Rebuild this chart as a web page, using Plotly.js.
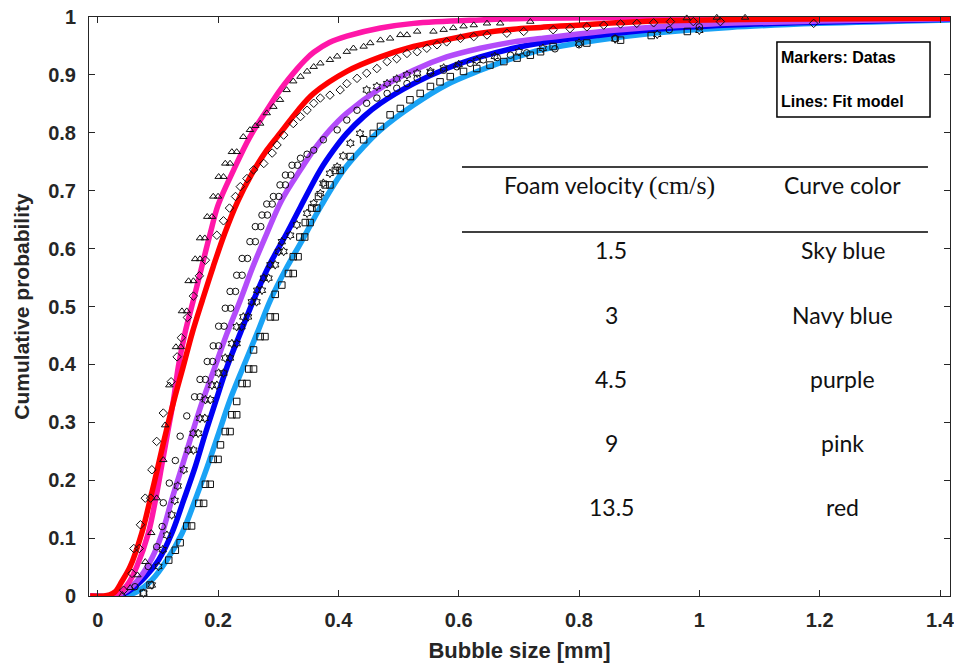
<!DOCTYPE html>
<html>
<head>
<meta charset="utf-8">
<script src="https://cdn.plot.ly/plotly-3.0.1.min.js"></script>
<style>html,body{margin:0;padding:0;background:#fff;}#chart{width:954px;height:667px;}</style>
</head>
<body>
<div id="chart"></div>
<script>
// ---------- Fit model curves (lines) ----------
const skyFitX = [-0.0125, 0.043, 0.065, 0.090, 0.115, 0.140, 0.162, 0.182, 0.201, 0.220, 0.242, 0.265, 0.287, 0.315, 0.337, 0.372, 0.409, 0.442, 0.470, 0.525, 0.580, 0.636, 0.691, 0.736, 0.83, 0.923, 1.05, 1.2, 1.417];
const skyFitY = [0, 0, 0.0074, 0.0276, 0.062, 0.108, 0.166, 0.223, 0.281, 0.339, 0.396, 0.454, 0.511, 0.569, 0.609, 0.675, 0.736, 0.776, 0.805, 0.848, 0.883, 0.908, 0.929, 0.943, 0.960, 0.972, 0.982, 0.989, 0.995];

const navyFitX = [-0.0125, 0.032, 0.054, 0.079, 0.101, 0.123, 0.143, 0.162, 0.179, 0.197, 0.215, 0.237, 0.259, 0.284, 0.314, 0.337, 0.370, 0.392, 0.414, 0.442, 0.470, 0.525, 0.580, 0.636, 0.691, 0.736, 0.83, 0.92, 1.05, 1.2, 1.417];
const navyFitY = [0, 0, 0.010, 0.033, 0.062, 0.108, 0.166, 0.223, 0.281, 0.339, 0.396, 0.454, 0.511, 0.569, 0.626, 0.672, 0.736, 0.770, 0.799, 0.828, 0.851, 0.885, 0.911, 0.931, 0.946, 0.955, 0.968, 0.978, 0.986, 0.991, 0.996];

const purpleFitX = [-0.0125, 0.026, 0.049, 0.071, 0.090, 0.107, 0.123, 0.140, 0.157, 0.175, 0.195, 0.215, 0.237, 0.258, 0.281, 0.306, 0.337, 0.359, 0.386, 0.414, 0.470, 0.525, 0.580, 0.636, 0.691, 0.736, 0.869, 1.0, 1.2, 1.417];
const purpleFitY = [0, 0, 0.010, 0.033, 0.065, 0.108, 0.166, 0.223, 0.281, 0.339, 0.396, 0.454, 0.511, 0.569, 0.626, 0.684, 0.736, 0.770, 0.805, 0.834, 0.877, 0.908, 0.931, 0.946, 0.957, 0.963, 0.978, 0.987, 0.993, 0.997];

const pinkFitX = [-0.0125, 0.032, 0.051, 0.065, 0.084, 0.096, 0.106, 0.116, 0.126, 0.134, 0.145, 0.159, 0.173, 0.187, 0.200, 0.226, 0.253, 0.281, 0.304, 0.331, 0.345, 0.359, 0.385, 0.414, 0.470, 0.525, 0.636, 0.736, 0.9, 1.1, 1.417];
const pinkFitY = [0, 0.002, 0.022, 0.051, 0.108, 0.166, 0.223, 0.281, 0.339, 0.396, 0.454, 0.511, 0.569, 0.626, 0.675, 0.736, 0.793, 0.839, 0.875, 0.910, 0.926, 0.939, 0.956, 0.967, 0.981, 0.989, 0.995, 0.998, 0.999, 1.0, 1.0];

const redFitX = [-0.0125, 0.010, 0.020, 0.029, 0.040, 0.054, 0.073, 0.087, 0.100, 0.113, 0.127, 0.142, 0.157, 0.174, 0.192, 0.211, 0.232, 0.255, 0.281, 0.306, 0.333, 0.359, 0.414, 0.470, 0.525, 0.580, 0.636, 0.691, 0.736, 0.9, 1.1, 1.417];
const redFitY = [0, 0, 0.002, 0.0074, 0.025, 0.051, 0.108, 0.166, 0.223, 0.281, 0.339, 0.396, 0.454, 0.511, 0.569, 0.626, 0.680, 0.727, 0.770, 0.803, 0.839, 0.868, 0.906, 0.931, 0.949, 0.961, 0.972, 0.979, 0.982, 0.992, 0.996, 0.998];

// ---------- Measured data (markers) ----------
// 1.5 cm/s - squares
const sqX = [0.076, 0.087, 0.118, 0.129, 0.137, 0.148, 0.156, 0.168, 0.176, 0.179, 0.187, 0.192, 0.200, 0.204, 0.212, 0.220, 0.223, 0.231, 0.231, 0.240, 0.248, 0.251, 0.259, 0.259, 0.270, 0.278, 0.287, 0.295, 0.295, 0.306, 0.317, 0.325, 0.325, 0.333, 0.336, 0.344, 0.345, 0.353, 0.356, 0.364, 0.367, 0.378, 0.386, 0.395, 0.403, 0.420, 0.442, 0.458, 0.470, 0.486, 0.503, 0.519, 0.536, 0.553, 0.569, 0.586, 0.608, 0.630, 0.652, 0.675, 0.697, 0.719, 0.736, 0.757, 0.813, 0.869, 0.920, 0.980];
const sqY = [0.005, 0.019, 0.062, 0.079, 0.092, 0.121, 0.121, 0.160, 0.160, 0.193, 0.193, 0.236, 0.236, 0.261, 0.284, 0.284, 0.313, 0.313, 0.336, 0.367, 0.367, 0.392, 0.392, 0.425, 0.448, 0.448, 0.482, 0.482, 0.521, 0.537, 0.557, 0.557, 0.586, 0.586, 0.620, 0.620, 0.645, 0.645, 0.670, 0.670, 0.690, 0.710, 0.710, 0.735, 0.735, 0.759, 0.788, 0.799, 0.811, 0.831, 0.842, 0.857, 0.868, 0.880, 0.888, 0.897, 0.906, 0.911, 0.917, 0.923, 0.929, 0.934, 0.940, 0.949, 0.955, 0.960, 0.968, 0.975];

// 3 cm/s - hexagrams
const hexX = [0.076, 0.090, 0.101, 0.108, 0.115, 0.123, 0.128, 0.133, 0.143, 0.151, 0.159, 0.159, 0.167, 0.170, 0.178, 0.179, 0.187, 0.190, 0.198, 0.201, 0.209, 0.212, 0.220, 0.223, 0.231, 0.231, 0.239, 0.242, 0.250, 0.256, 0.264, 0.265, 0.273, 0.276, 0.284, 0.287, 0.295, 0.301, 0.309, 0.306, 0.320, 0.331, 0.348, 0.359, 0.370, 0.375, 0.386, 0.398, 0.408, 0.420, 0.436, 0.447, 0.464, 0.481, 0.497, 0.514, 0.531, 0.553, 0.575, 0.600, 0.630, 0.660, 0.700, 0.740, 0.800, 0.860, 0.930, 1.000];
const hexY = [0.005, 0.019, 0.051, 0.080, 0.105, 0.140, 0.165, 0.190, 0.218, 0.252, 0.252, 0.281, 0.281, 0.307, 0.307, 0.339, 0.339, 0.364, 0.364, 0.385, 0.385, 0.411, 0.411, 0.436, 0.436, 0.465, 0.465, 0.482, 0.482, 0.508, 0.508, 0.528, 0.528, 0.549, 0.549, 0.572, 0.572, 0.595, 0.595, 0.612, 0.623, 0.641, 0.661, 0.678, 0.695, 0.713, 0.730, 0.741, 0.760, 0.782, 0.799, 0.874, 0.880, 0.885, 0.893, 0.900, 0.903, 0.906, 0.912, 0.918, 0.925, 0.932, 0.940, 0.946, 0.955, 0.962, 0.970, 0.977];

// 4.5 cm/s - circles
const cirX = [0.062, 0.084, 0.098, 0.107, 0.109, 0.119, 0.129, 0.137, 0.148, 0.161, 0.170, 0.170, 0.179, 0.182, 0.191, 0.192, 0.201, 0.201, 0.210, 0.212, 0.221, 0.220, 0.229, 0.231, 0.240, 0.240, 0.249, 0.253, 0.262, 0.262, 0.271, 0.273, 0.282, 0.281, 0.290, 0.292, 0.301, 0.303, 0.312, 0.312, 0.321, 0.323, 0.332, 0.337, 0.348, 0.359, 0.375, 0.398, 0.414, 0.431, 0.447, 0.464, 0.481, 0.497, 0.514, 0.531, 0.553, 0.575, 0.597, 0.619, 0.641, 0.664, 0.686, 0.713, 0.760, 0.800, 0.860, 0.950, 1.000];
const cirY = [0.016, 0.051, 0.085, 0.120, 0.161, 0.195, 0.234, 0.276, 0.311, 0.344, 0.344, 0.374, 0.374, 0.405, 0.405, 0.432, 0.432, 0.466, 0.466, 0.497, 0.497, 0.526, 0.526, 0.554, 0.554, 0.583, 0.583, 0.612, 0.612, 0.638, 0.638, 0.658, 0.658, 0.677, 0.677, 0.690, 0.690, 0.710, 0.710, 0.727, 0.727, 0.744, 0.744, 0.756, 0.763, 0.770, 0.788, 0.805, 0.822, 0.839, 0.851, 0.860, 0.868, 0.877, 0.885, 0.894, 0.903, 0.908, 0.914, 0.920, 0.926, 0.930, 0.934, 0.938, 0.945, 0.952, 0.963, 0.978, 0.983];

// 9 cm/s - triangles
const triX = [0.041, 0.054, 0.066, 0.079, 0.089, 0.098, 0.109, 0.112, 0.119, 0.130, 0.138, 0.140, 0.148, 0.151, 0.159, 0.162, 0.170, 0.170, 0.178, 0.182, 0.190, 0.192, 0.200, 0.201, 0.209, 0.212, 0.220, 0.223, 0.231, 0.242, 0.253, 0.262, 0.270, 0.281, 0.292, 0.303, 0.314, 0.325, 0.337, 0.348, 0.359, 0.370, 0.386, 0.398, 0.414, 0.425, 0.442, 0.453, 0.470, 0.486, 0.503, 0.514, 0.531, 0.558, 0.575, 0.591, 0.608, 0.625, 0.647, 0.669, 0.719, 0.979, 1.029, 1.076];
const triY = [0.002, 0.014, 0.036, 0.059, 0.109, 0.169, 0.235, 0.295, 0.364, 0.430, 0.430, 0.492, 0.492, 0.544, 0.544, 0.582, 0.582, 0.618, 0.618, 0.655, 0.655, 0.690, 0.690, 0.724, 0.724, 0.747, 0.747, 0.767, 0.767, 0.793, 0.805, 0.812, 0.816, 0.834, 0.845, 0.857, 0.874, 0.889, 0.897, 0.906, 0.914, 0.920, 0.926, 0.932, 0.940, 0.946, 0.949, 0.955, 0.960, 0.963, 0.969, 0.969, 0.975, 0.975, 0.978, 0.981, 0.984, 0.986, 0.989, 0.989, 0.992, 0.998, 0.999, 0.999];

// 13.5 cm/s - diamonds
const diaX = [0.043, 0.057, 0.060, 0.069, 0.071, 0.079, 0.088, 0.090, 0.098, 0.109, 0.122, 0.132, 0.139, 0.149, 0.159, 0.169, 0.179, 0.198, 0.209, 0.219, 0.229, 0.237, 0.248, 0.259, 0.276, 0.290, 0.298, 0.309, 0.325, 0.337, 0.348, 0.359, 0.370, 0.386, 0.403, 0.414, 0.431, 0.447, 0.464, 0.481, 0.497, 0.514, 0.531, 0.547, 0.564, 0.580, 0.603, 0.625, 0.647, 0.680, 0.708, 0.757, 0.785, 0.813, 0.841, 0.869, 0.896, 0.924, 0.952, 0.990, 1.035, 1.190];
const diaY = [0.010, 0.039, 0.082, 0.082, 0.123, 0.169, 0.169, 0.218, 0.267, 0.316, 0.370, 0.413, 0.446, 0.481, 0.518, 0.553, 0.580, 0.623, 0.648, 0.670, 0.690, 0.707, 0.721, 0.736, 0.747, 0.765, 0.779, 0.796, 0.816, 0.828, 0.839, 0.851, 0.860, 0.865, 0.874, 0.885, 0.894, 0.903, 0.911, 0.923, 0.928, 0.937, 0.940, 0.946, 0.952, 0.957, 0.963, 0.966, 0.969, 0.972, 0.975, 0.978, 0.980, 0.983, 0.986, 0.988, 0.989, 0.990, 0.992, 0.992, 0.992, 0.989];

// ---------- Table text ----------
const velocities = ['1.5', '3', '4.5', '9', '13.5'];
const colorNames = ['Sky blue', 'Navy blue', 'purple', 'pink', 'red'];

const xTicks = [0, 0.2, 0.4, 0.6, 0.8, 1, 1.2, 1.4];
const yTicks = [0, 0.1, 0.2, 0.3, 0.4, 0.5, 0.6, 0.7, 0.8, 0.9, 1];

const LW = 5.5;
function fit(x, y, color) {
  return {x: x, y: y, type: 'scatter', mode: 'lines',
    line: {color: color, width: LW, shape: 'spline', smoothing: 1},
    hoverinfo: 'skip', showlegend: false};
}
function mk(x, y, sym) {
  return {x: x, y: y, type: 'scatter', mode: 'markers',
    marker: {symbol: sym, size: 6.5, color: '#111', line: {color: '#111', width: 1}},
    showlegend: false, cliponaxis: false};
}

const traces = [
  fit(skyFitX, skyFitY, '#1AA3F5'),
  fit(navyFitX, navyFitY, '#0000F5'),
  fit(purpleFitX, purpleFitY, '#B34CFA'),
  fit(pinkFitX, pinkFitY, '#FF17A8'),
  fit(redFitX, redFitY, '#FF0000'),
  mk(sqX, sqY, 'square-open'),
  mk(hexX, hexY, 'hexagram-open'),
  mk(cirX, cirY, 'circle-open'),
  mk(triX, triY, 'triangle-up-open'),
  mk(diaX, diaY, 'diamond-open')
];

const tableFont = {family: 'Lato, "Open Sans", sans-serif', size: 23, color: '#111'};
const rowYs = [0.5976, 0.4853, 0.3748, 0.2642, 0.1537];
const annotations = [];
velocities.forEach((v, i) => {
  annotations.push({xref: 'paper', yref: 'paper', x: 0.6063, y: rowYs[i], text: v, showarrow: false, font: tableFont, xanchor: 'center', yanchor: 'middle'});
  annotations.push({xref: 'paper', yref: 'paper', x: 0.8757, y: rowYs[i], text: colorNames[i], showarrow: false, font: tableFont, xanchor: 'center', yanchor: 'middle'});
});
annotations.push({xref: 'paper', yref: 'paper', x: 0.6051, y: 0.7098, showarrow: false, xanchor: 'center', yanchor: 'middle',
  text: 'Foam velocity <span style="font-family:\'Liberation Serif\',serif;font-size:26px">(cm/s)</span>', font: tableFont});
annotations.push({xref: 'paper', yref: 'paper', x: 0.8757, y: 0.7098, showarrow: false, xanchor: 'center', yanchor: 'middle',
  text: 'Curve color', font: tableFont});
const boxFont = {family: '"Liberation Sans", Arial, sans-serif', size: 16, color: '#000', weight: 'bold'};
annotations.push({xref: 'paper', yref: 'paper', x: 0.8014, y: 0.9309, text: 'Markers: Datas', showarrow: false, xanchor: 'left', yanchor: 'middle', font: boxFont});
annotations.push({xref: 'paper', yref: 'paper', x: 0.8014, y: 0.8549, text: 'Lines: Fit model', showarrow: false, xanchor: 'left', yanchor: 'middle', font: boxFont});

const shapes = [
  {type: 'line', xref: 'paper', yref: 'paper', x0: 0.4332, x1: 0.9744, y0: 0.741, y1: 0.741, line: {color: '#000', width: 1.5}},
  {type: 'line', xref: 'paper', yref: 'paper', x0: 0.4332, x1: 0.9744, y0: 0.6287, y1: 0.6287, line: {color: '#000', width: 1.5}},
  {type: 'rect', xref: 'paper', yref: 'paper', x0: 0.799, x1: 0.9768, y0: 0.8273, y1: 0.9568, line: {color: '#000', width: 1.5}, fillcolor: '#fff', layer: 'below'}
];

const axisFont = {family: '"Liberation Sans", Arial, sans-serif', size: 20, color: '#262626', weight: 'bold'};
const layout = {
  width: 954, height: 667,
  margin: {l: 89, r: 4, t: 17, b: 71, pad: 0},
  paper_bgcolor: '#fff', plot_bgcolor: '#fff',
  showlegend: false,
  xaxis: {
    range: [-0.0145, 1.4166], tickvals: xTicks, ticks: 'inside', ticklen: 6, tickwidth: 1, tickcolor: '#262626',
    showline: true, linecolor: '#262626', linewidth: 1, mirror: 'ticks', showgrid: false, zeroline: false,
    tickfont: axisFont, ticklabelstandoff: 6, ticklabeloverflow: 'allow',
    title: {text: 'Bubble size [mm]', font: {family: '"Liberation Sans", Arial, sans-serif', size: 22, color: '#262626', weight: 'bold'}, standoff: 12}
  },
  yaxis: {
    range: [0, 1], tickvals: yTicks, ticks: 'inside', ticklen: 6, tickwidth: 1, tickcolor: '#262626',
    showline: true, linecolor: '#262626', linewidth: 1, mirror: 'ticks', showgrid: false, zeroline: false,
    tickfont: axisFont, ticklabelstandoff: 8, ticklabeloverflow: 'allow',
    title: {text: 'Cumulative probability', font: {family: '"Liberation Sans", Arial, sans-serif', size: 21, color: '#262626', weight: 'bold'}, standoff: 12}
  },
  shapes: shapes,
  annotations: annotations
};

Plotly.newPlot('chart', traces, layout, {displayModeBar: false, staticPlot: true});
</script>
</body>
</html>
